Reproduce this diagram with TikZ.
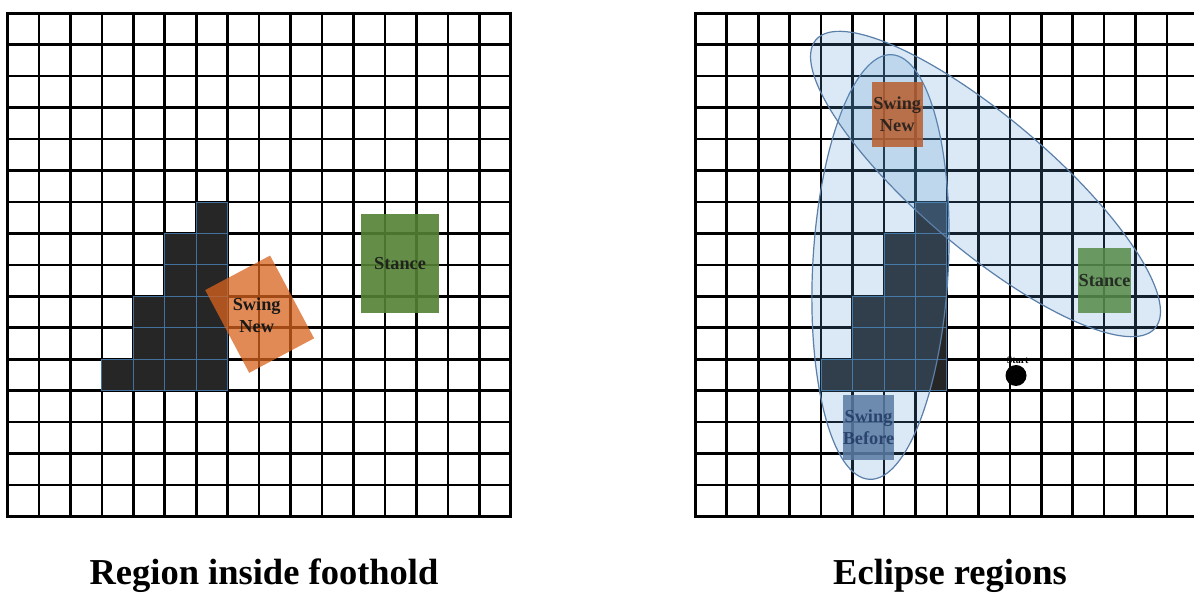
\documentclass[tikz,border=0pt]{standalone}
\usepackage{fontspec}
\setmainfont{Liberation Serif}
\definecolor{darkfill}{HTML}{262626}
\definecolor{cellblue}{HTML}{41719C}
\definecolor{ellfill}{HTML}{5B9BD5}
\definecolor{elledge}{HTML}{5B7FA8}
\definecolor{orangeL}{HTML}{D9631E}
\definecolor{greenL}{HTML}{548235}
\definecolor{orangeR}{HTML}{B85E2E}
\definecolor{greenR}{HTML}{568B48}
\definecolor{blueR}{HTML}{5A7BA2}
\definecolor{navy}{HTML}{1F3864}
\begin{document}
\begin{tikzpicture}[x=1pt,y=1pt,
  gridline/.style={line width=2.6pt, black, line cap=rect},
  darkcell/.style={fill=darkfill, draw=cellblue, line width=0.9pt},
  region/.style={fill=ellfill, fill opacity=0.22, draw=elledge, line width=1.2pt},
  lbl/.style={font=\fontsize{18.3}{22}\selectfont\bfseries, align=center, inner sep=0pt, text=black!90},
  box/.style={inner sep=0pt, outer sep=0pt, draw=none},
  title/.style={font=\fontsize{36.5}{40}\selectfont\bfseries, anchor=base, inner sep=0pt}]
\useasboundingbox (0,0) rectangle (1194,594);
\fill[white] (0,0) rectangle (1194,594);
\clip (0,0) rectangle (1194,594);

% ---------- left grid ----------
\foreach \k in {0,...,16} {
  \draw[gridline] ({7.5+\k*31.45},77.5) -- ({7.5+\k*31.45},580.7);
  \draw[gridline] (7.5,{77.5+\k*31.45}) -- (510.7,{77.5+\k*31.45});
}
\foreach \i/\j in {6/6,5/7,6/7,5/8,6/8,4/9,5/9,6/9,4/10,5/10,6/10,3/11,4/11,5/11,6/11}
  \draw[darkcell] ({7.5+\i*31.45},{580.7-\j*31.45}) rectangle ++(31.45,-31.45);

\node[box, fill=orangeL, fill opacity=0.75, minimum width=73.5pt, minimum height=93.7pt, rotate=28] (swingnewL) at (259.65,279.8) {};
\node[lbl] (swingnewLtxt) at (256.7,278.5) {Swing\\New};
\node[box, fill=greenL, fill opacity=0.9, minimum width=78.6pt, minimum height=98.7pt, lbl] (stanceL) at (400,330.65) {Stance};

% ---------- right grid ----------
\foreach \k in {0,...,16} {
  \draw[gridline] ({695.3+\k*31.45},77.5) -- ({695.3+\k*31.45},580.7);
  \draw[gridline] (695.3,{77.5+\k*31.45}) -- (1198.5,{77.5+\k*31.45});
}
\foreach \i/\j in {7/6,6/7,7/7,6/8,7/8,5/9,6/9,7/9,5/10,6/10,7/10,4/11,5/11,6/11,7/11}
  \draw[darkcell] ({695.3+\i*31.45},{580.7-\j*31.45}) rectangle ++(31.45,-31.45);

\draw[region, rotate around={-3:(880.5,327)}] (880.5,327) ellipse [x radius=67.8, y radius=212.6];
\draw[region, rotate around={-40.35:(985.5,410)}] (985.5,410) ellipse [x radius=222.6, y radius=66];

\node[box, fill=orangeR, fill opacity=0.85, minimum width=51pt, minimum height=64.4pt, lbl] (swingnewR) at (897.2,479.5) {Swing\\New};
\node[box, fill=greenR, fill opacity=0.85, minimum width=52.4pt, minimum height=65.6pt, lbl] (stanceR) at (1104.5,313.5) {Stance};
\node[box, fill=blueR, fill opacity=0.85, minimum width=51.6pt, minimum height=65pt, lbl, text=navy, text opacity=0.85] (swingbefore) at (868.5,166.5) {Swing\\Before};

\node[circle, fill=black, minimum size=21pt, inner sep=0pt] (start) at (1016,218.5) {};
\node[font=\fontsize{10}{10}\selectfont\bfseries, inner sep=0pt] (startlbl) at (1017.7,234) {Start};

% ---------- titles ----------
\node[title] (t1) at (264,9) {Region inside foothold};
\node[title] (t2) at (950,9) {Eclipse regions};
\end{tikzpicture}
\end{document}
